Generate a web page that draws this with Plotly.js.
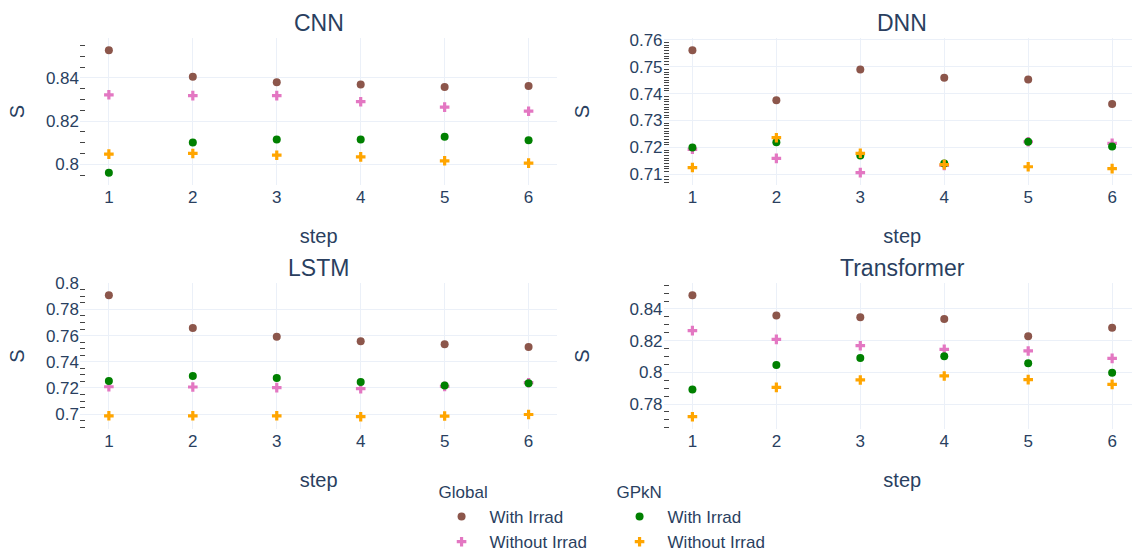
<!DOCTYPE html>
<html>
<head>
<meta charset="utf-8">
<script src="https://cdn.plot.ly/plotly-3.0.1.min.js"></script>
<style>
  html, body { margin: 0; padding: 0; overflow: hidden; background: #fff; }
  #chart { width: 1221px; height: 552px; }
</style>
</head>
<body>
<div id="chart"></div>
<script>
// ---- data ----
const steps = [1, 2, 3, 4, 5, 6];
const models = ['CNN', 'DNN', 'LSTM', 'Transformer'];
const seriesNames = ['With Irrad', 'Without Irrad'];
const groups = ['Global', 'GPkN'];

const cnnGlobalWith      = [0.8528, 0.8406, 0.8380, 0.8370, 0.8358, 0.8363];
const cnnGlobalWithout   = [0.8322, 0.8318, 0.8318, 0.8290, 0.8265, 0.8246];
const cnnGpknWith        = [0.7961, 0.8101, 0.8115, 0.8115, 0.8128, 0.8111];
const cnnGpknWithout     = [0.8047, 0.8050, 0.8042, 0.8034, 0.8016, 0.8005];

const dnnGlobalWith      = [0.7561, 0.7375, 0.7490, 0.7459, 0.7453, 0.7361];
const dnnGlobalWithout   = [0.7193, 0.7159, 0.7106, 0.7133, 0.7221, 0.7215];
const dnnGpknWith        = [0.7200, 0.7219, 0.7170, 0.7140, 0.7221, 0.7203];
const dnnGpknWithout     = [0.7125, 0.7236, 0.7178, 0.7136, 0.7128, 0.7121];

const lstmGlobalWith     = [0.7908, 0.7658, 0.7592, 0.7556, 0.7533, 0.7513];
const lstmGlobalWithout  = [0.7209, 0.7207, 0.7202, 0.7194, 0.7212, 0.7240];
const lstmGpknWith       = [0.7253, 0.7291, 0.7276, 0.7245, 0.7219, 0.7235];
const lstmGpknWithout    = [0.6987, 0.6987, 0.6987, 0.6980, 0.6985, 0.6997];

const trGlobalWith       = [0.8486, 0.8358, 0.8347, 0.8337, 0.8227, 0.8282];
const trGlobalWithout    = [0.8263, 0.8208, 0.8168, 0.8145, 0.8135, 0.8088];
const trGpknWith         = [0.7891, 0.8046, 0.8091, 0.8101, 0.8057, 0.7998];
const trGpknWithout      = [0.7720, 0.7905, 0.7952, 0.7977, 0.7954, 0.7924];

const modelSeries = [
  [cnnGlobalWith, cnnGlobalWithout, cnnGpknWith, cnnGpknWithout],
  [dnnGlobalWith, dnnGlobalWithout, dnnGpknWith, dnnGpknWithout],
  [lstmGlobalWith, lstmGlobalWithout, lstmGpknWith, lstmGpknWithout],
  [trGlobalWith, trGlobalWithout, trGpknWith, trGpknWithout]
];

// ---- styles ----
const colors = ['#8c564b', '#e377c2', 'green', 'orange'];
const symbols = ['circle', 'cross', 'circle', 'cross'];
const FONT = 'Arial, "Liberation Sans", sans-serif';
const TEXT = '#2a3f5f';
const GRID = '#EBF0F8';
const majorStep = [0.02, 0.01, 0.02, 0.02];
const minorStep = [0.005, 0.001, 0.005, 0.005];

const traces = [];
modelSeries.forEach((series, m) => {
  const sfx = m === 0 ? '' : String(m + 1);
  series.forEach((vals, k) => {
    const g = groups[Math.floor(k / 2)];
    traces.push({
      type: 'scatter', mode: 'markers',
      x: steps, y: vals,
      xaxis: 'x' + sfx, yaxis: 'y' + sfx,
      name: seriesNames[k % 2],
      legendgroup: g,
      legendgrouptitle: { text: g },
      showlegend: m === 0,
      marker: { color: colors[k], symbol: symbols[k], size: 8 }
    });
  });
});

const xDom = [[0, 0.45], [0.55, 1]];
const yDom = [[0.624, 1], [0, 0.3734]];
const yTitleStandoff = [15, 34];

function xax(col, yname) {
  return {
    domain: xDom[col], anchor: yname,
    tickmode: 'array', tickvals: steps, ticktext: steps.map(String),
    gridcolor: GRID, linecolor: GRID, zerolinecolor: GRID, zerolinewidth: 2,
    ticks: '', showline: false, automargin: false,
    title: { text: 'step', standoff: 22, font: { size: 20 } }
  };
}
function yax(i, xname) {
  const row = Math.floor(i / 2), col = i % 2;
  return {
    domain: yDom[row], anchor: xname,
    dtick: majorStep[i], tick0: 0,
    gridcolor: GRID, linecolor: GRID, zerolinecolor: GRID, zerolinewidth: 2,
    ticks: '', showline: false, automargin: false,
    minor: { ticks: 'inside', ticklen: 5, tickcolor: '#444', tickwidth: 1, showgrid: false, dtick: minorStep[i] },
    title: { text: 'S', standoff: yTitleStandoff[col], font: { size: 20 } }
  };
}

const annotations = models.map((name, i) => {
  const col = i % 2, row = Math.floor(i / 2);
  return {
    text: name, showarrow: false, xref: 'paper', yref: 'paper',
    x: (xDom[col][0] + xDom[col][1]) / 2, y: yDom[row][1],
    xanchor: 'center', yanchor: 'bottom',
    font: { size: 23 }
  };
});

const layout = {
  width: 1221, height: 552,
  margin: { l: 80, r: 80, t: 38, b: 123, autoexpand: false },
  paper_bgcolor: '#fff', plot_bgcolor: '#fff',
  font: { family: FONT, size: 17, color: TEXT },
  xaxis: xax(0, 'y'), yaxis: yax(0, 'x'),
  xaxis2: xax(1, 'y2'), yaxis2: yax(1, 'x2'),
  xaxis3: xax(0, 'y3'), yaxis3: yax(2, 'x3'),
  xaxis4: xax(1, 'y4'), yaxis4: yax(3, 'x4'),
  annotations: annotations,
  showlegend: true,
  legend: {
    orientation: 'h', x: 0.501, xanchor: 'center', y: -0.115, yanchor: 'top',
    itemwidth: 46, tracegroupgap: 10, entrywidth: 117,
    font: { size: 17 }, grouptitlefont: { size: 17 }
  },
  hovermode: 'closest'
};

Plotly.newPlot('chart', traces, layout, { displayModeBar: false, responsive: false });
</script>
</body>
</html>
